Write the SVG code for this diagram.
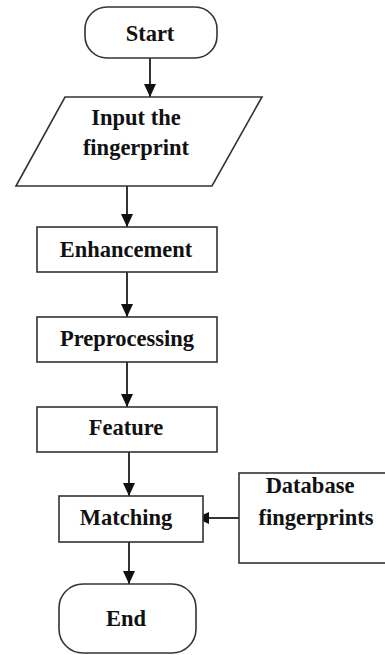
<svg xmlns="http://www.w3.org/2000/svg" width="385" height="655" viewBox="0 0 385 655">
<style>
.s{fill:#fff;stroke:#333;stroke-width:1.6}
.t{font-family:"Liberation Serif","Times New Roman",serif;font-weight:bold;font-size:22.5px;fill:#111;text-anchor:middle}
.c{stroke:#333;stroke-width:2;fill:none}
</style>
<defs>
<marker id="ah" markerWidth="13" markerHeight="12" refX="13" refY="6" orient="auto" markerUnits="userSpaceOnUse">
<path d="M0,0 L13,6 L0,12 Z" fill="#111"/>
</marker>
</defs>
<rect width="385" height="655" fill="#fff"/>
<g id="connectors">
<line class="c" x1="150" y1="58" x2="150" y2="97" marker-end="url(#ah)"/>
<line class="c" x1="127" y1="186" x2="127" y2="227" marker-end="url(#ah)"/>
<line class="c" x1="127" y1="272" x2="127" y2="317" marker-end="url(#ah)"/>
<line class="c" x1="127" y1="362" x2="127" y2="407" marker-end="url(#ah)"/>
<line class="c" x1="129" y1="452" x2="129" y2="496" marker-end="url(#ah)"/>
<line class="c" x1="129" y1="542" x2="129" y2="584" marker-end="url(#ah)"/>
<line class="c" x1="239" y1="518" x2="196" y2="518" marker-end="url(#ah)"/>
</g>
<g id="start">
<rect class="s" x="85" y="7" width="132" height="51" rx="22" ry="22"/>
<text class="t" x="150" y="41">Start</text>
</g>
<g id="input">
<polygon class="s" points="65,97 262,97 212,186 16,186"/>
<text class="t" x="136" y="125">Input the</text>
<text class="t" x="136" y="155">fingerprint</text>
</g>
<g id="enhancement">
<rect class="s" x="37" y="227" width="180" height="45"/>
<text class="t" x="126" y="257">Enhancement</text>
</g>
<g id="preprocessing">
<rect class="s" x="37" y="317" width="180" height="45"/>
<text class="t" x="127" y="346">Preprocessing</text>
</g>
<g id="feature">
<rect class="s" x="37" y="407" width="180" height="45"/>
<text class="t" x="126" y="435">Feature</text>
</g>
<g id="matching">
<rect class="s" x="59" y="496" width="144" height="46"/>
<text class="t" x="126" y="525">Matching</text>
</g>
<g id="database">
<rect class="s" x="239" y="473" width="150" height="90"/>
<text class="t" x="310" y="493">Database</text>
<text class="t" x="316" y="525">fingerprints</text>
</g>
<g id="end">
<rect class="s" x="59" y="584" width="137" height="69" rx="24" ry="24"/>
<text class="t" x="126" y="626">End</text>
</g>
</svg>
